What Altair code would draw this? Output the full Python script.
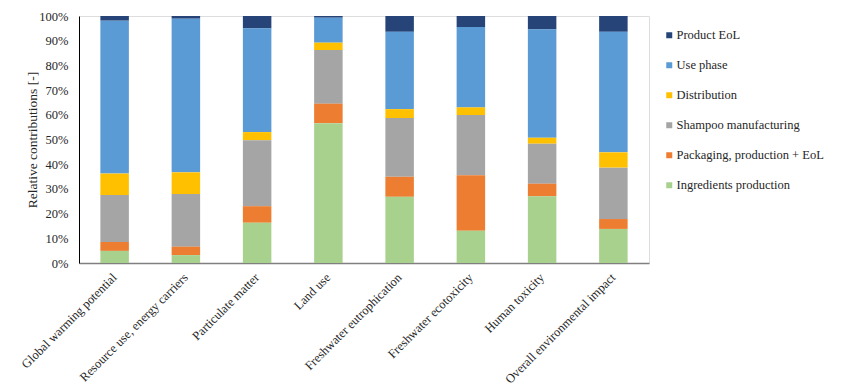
import altair as alt
import pandas as pd

categories = [
    "Global warming potential",
    "Resource use, energy carriers",
    "Particulate matter",
    "Land use",
    "Freshwater eutrophication",
    "Freshwater ecotoxicity",
    "Human toxicity",
    "Overall environmental impact",
]

# percentages per life-cycle stage, in category order
ingredients = [4.9, 3.2, 16.3, 56.6, 26.8, 13.1, 27.0, 13.8]
packaging = [3.6, 3.4, 6.7, 7.9, 8.1, 22.4, 5.1, 4.0]
shampoo = [19.0, 21.3, 26.7, 21.7, 23.8, 24.4, 16.2, 20.8]
distribution = [8.7, 8.8, 3.3, 3.0, 3.6, 3.1, 2.4, 6.2]
use_phase = [61.9, 62.2, 42.0, 10.1, 31.3, 32.5, 43.9, 48.8]
product_eol = [1.9, 1.1, 5.0, 0.7, 6.4, 4.5, 5.4, 6.4]

series_names = [
    "Product EoL",
    "Use phase",
    "Distribution",
    "Shampoo manufacturing",
    "Packaging, production + EoL",
    "Ingredients production",
]
series_values = [product_eol, use_phase, distribution, shampoo, packaging, ingredients]
colors = ["#264478", "#5B9BD5", "#FFC000", "#A5A5A5", "#ED7D31", "#A9D18E"]

rows = []
for si, (name, vals) in enumerate(zip(series_names, series_values)):
    for c, v in zip(categories, vals):
        rows.append({"category": c, "stage": name, "value": v, "order": len(series_names) - si})
df = pd.DataFrame(rows)

FONT = "Liberation Serif"
TXT = "#262626"

chart = (
    alt.Chart(df)
    .mark_bar()
    .encode(
        x=alt.X(
            "category:N",
            sort=categories,
            scale=alt.Scale(paddingInner=0.6, paddingOuter=0.3),
            axis=alt.Axis(
                title=None,
                labelAngle=-45,
                labelAlign="right",
                labelBaseline="middle",
                labelPadding=12,
                ticks=False,
                domainColor="#808080",
                domainWidth=1.5,
                labelFont=FONT,
                labelFontSize=12.5,
                labelColor=TXT,
                labelLimit=300,
            ),
        ),
        y=alt.Y(
            "value:Q",
            stack="zero",
            scale=alt.Scale(domain=[0, 100], nice=False),
            axis=alt.Axis(
                values=list(range(0, 101, 10)),
                labelExpr="datum.value + '%'",
                ticks=False,
                grid=False,
                domainColor="black",
                labelPadding=11,
                labelFont=FONT,
                labelFontSize=12.5,
                labelColor=TXT,
                title="Relative contributions [-]",
                titleFont=FONT,
                titleFontSize=13.5,
                titleFontWeight="normal",
                titleColor=TXT,
                titleX=-47,
                titleY=123.5,
                titleAngle=-90,
                titleAlign="center",
                titleBaseline="middle",
            ),
        ),
        color=alt.Color(
            "stage:N",
            scale=alt.Scale(domain=series_names, range=colors),
            legend=alt.Legend(
                title=None,
                orient="none",
                legendX=584,
                legendY=13,
                padding=0,
                symbolType="square",
                symbolSize=36,
                symbolStrokeWidth=0,
                labelFont=FONT,
                labelFontSize=12.5,
                labelColor=TXT,
                labelOffset=1,
                rowPadding=17,
                labelLimit=300,
            ),
        ),
        order=alt.Order("order:Q", sort="ascending"),
    )
    .properties(
        width=570,
        height=247,
        autosize=alt.AutoSizeParams(type="none"),
        padding={"left": 71, "top": 8, "right": 193, "bottom": 128},
    )
    .configure_view(stroke=None)
    .configure(background="white")
)

chart.save("out.html", embed_options={"renderer": "svg", "actions": False})
